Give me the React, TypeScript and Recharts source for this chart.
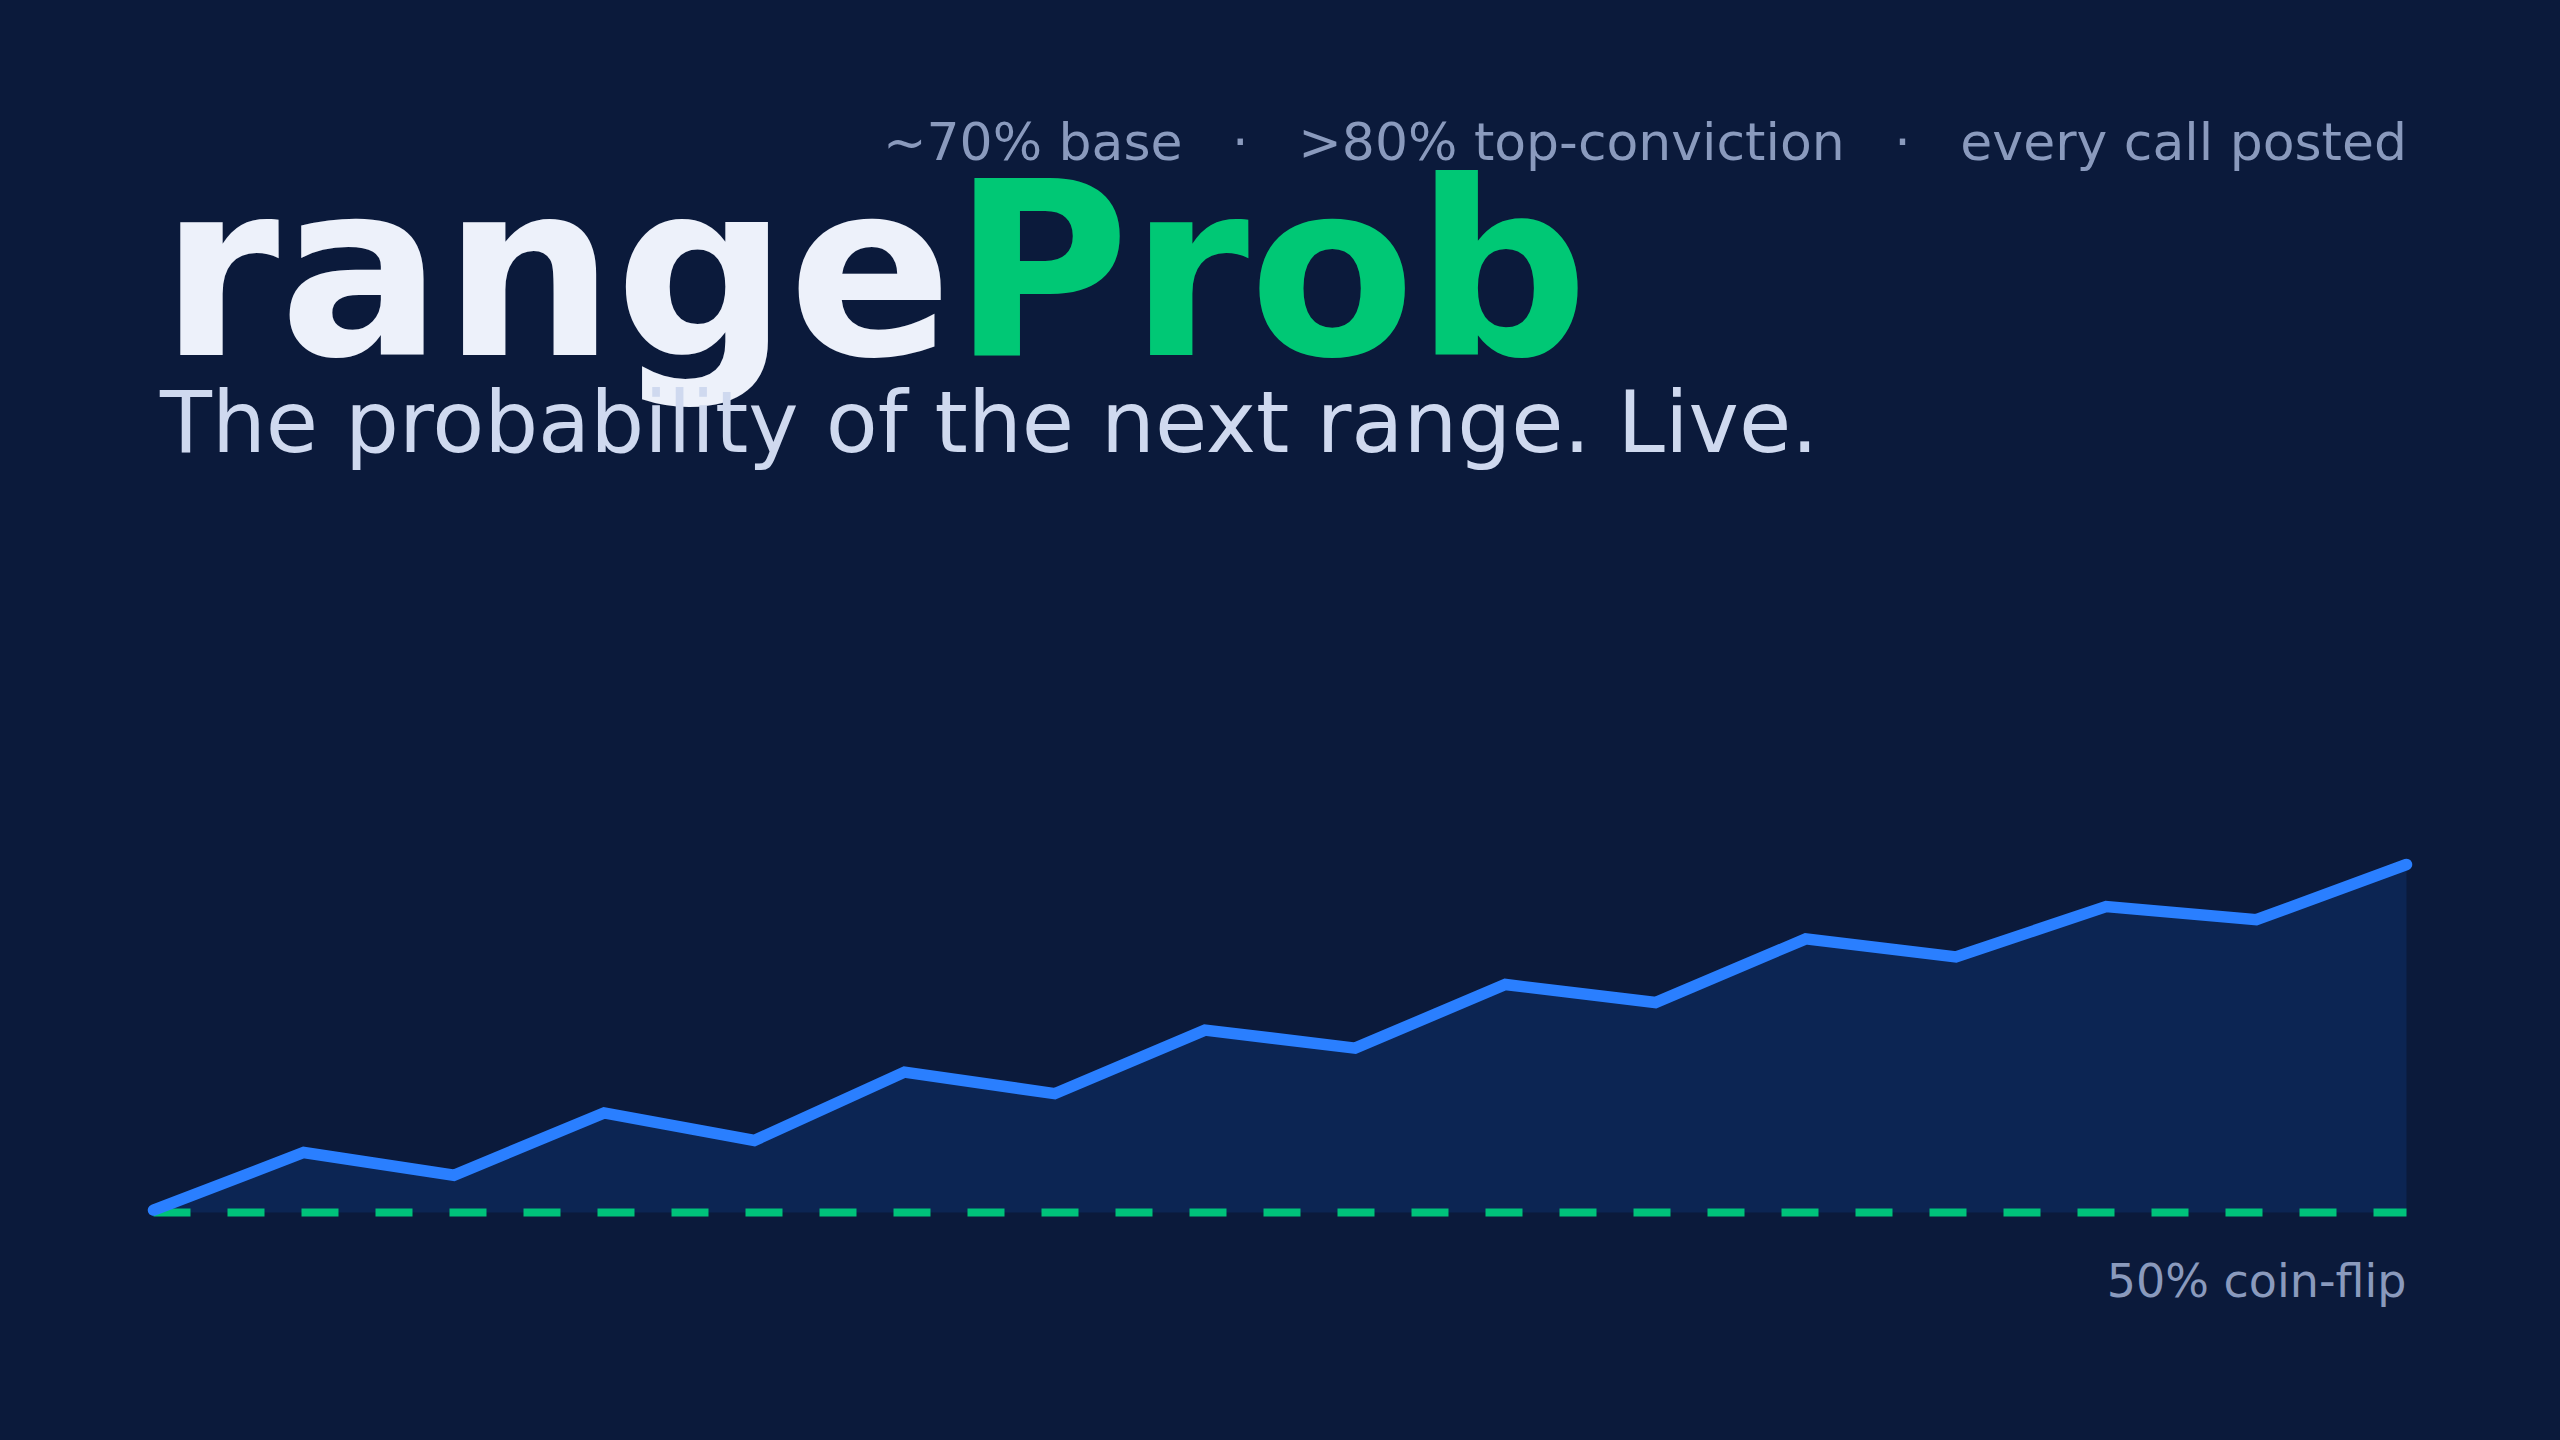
import React from "react";
import { ComposedChart, Area, Line, XAxis, YAxis, ReferenceLine } from "recharts";

// ---- data ----
const steps: string[] = [
  "1", "2", "3", "4", "5", "6", "7", "8",
  "9", "10", "11", "12", "13", "14", "15", "16",
];
const probability: number[] = [
  50.2, 55.0, 53.1, 58.3, 56.0, 61.7, 59.9, 65.2,
  63.7, 69.0, 67.5, 72.8, 71.3, 75.5, 74.4, 79.0,
];
const coinFlip = 50;
const yDomain: [number, number] = [50, 100];

const titleMain = "range";
const titleAccent = "Prob";
const tagline = "The probability of the next range. Live.";
const stats: string[] = ["~70% base", ">80% top-conviction", "every call posted"];
const coinFlipLabel = "50% coin-flip";

const data = steps.map((s, i) => ({ step: s, p: probability[i] }));

const W = 2560;
const H = 1440;
const BG = "#0b1a3b";
const FONT = "'DejaVu Sans', sans-serif";

export default function App() {
  return (
    <div
      style={{
        position: "absolute",
        left: 0,
        top: 0,
        width: W,
        height: H,
        background: BG,
        overflow: "hidden",
      }}
    >
      <ComposedChart
        width={W}
        height={H}
        data={data}
        margin={{ top: 612.5, bottom: 227.5, left: 153.5, right: 153.5 }}
      >
        <XAxis dataKey="step" hide />
        <YAxis hide domain={yDomain} />
        <Area
          type="linear"
          dataKey="p"
          stroke="none"
          fill="#0c2553"
          fillOpacity={1}
          isAnimationActive={false}
        />
        <ReferenceLine
          y={coinFlip}
          stroke="#00c27a"
          strokeWidth={8}
          strokeDasharray="37 37"
          label={(props: any) => {
            const vb = props.viewBox || {};
            return (
              <text
                x={(vb.x ?? 0) + (vb.width ?? 0)}
                y={(vb.y ?? 0) + 84.5}
                textAnchor="end"
                fontFamily={FONT}
                fontSize={46}
                fill="#8a9abd"
              >
                {coinFlipLabel}
              </text>
            );
          }}
        />
        <Line
          type="linear"
          dataKey="p"
          stroke="#2a7fff"
          strokeWidth={11.5}
          strokeLinecap="round"
          strokeLinejoin="miter"
          dot={false}
          activeDot={false}
          isAnimationActive={false}
        />
      </ComposedChart>
      <svg
        width={W}
        height={H}
        style={{ position: "absolute", left: 0, top: 0, pointerEvents: "none" }}
      >
        <text
          x={2407}
          y={160}
          textAnchor="end"
          fontFamily={FONT}
          fontSize={52}
          fill="#8a9abd"
          xmlSpace="preserve"
          style={{ whiteSpace: "pre" }}
        >
          {stats.join("   ·   ")}
        </text>
        <text x={160} y={355} fontFamily={FONT} fontSize={242} fontWeight="bold">
          <tspan fill="#edf1fa">{titleMain}</tspan>
          <tspan fill="#00c875">{titleAccent}</tspan>
        </text>
        <text x={160} y={452} fontFamily={FONT} fontSize={85} fill="#cfd9ef">
          {tagline}
        </text>
      </svg>
    </div>
  );
}
